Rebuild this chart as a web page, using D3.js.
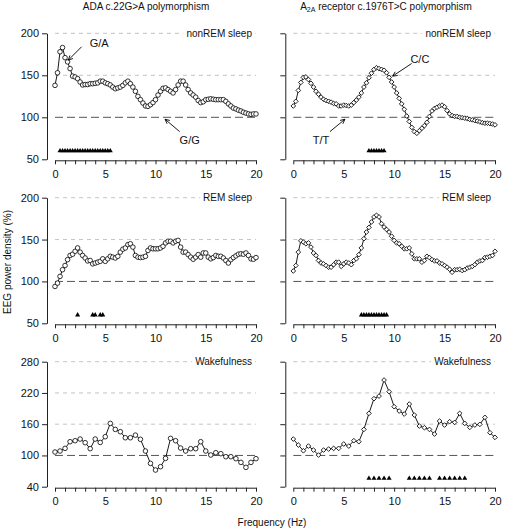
<!DOCTYPE html>
<html><head><meta charset="utf-8">
<script src="https://cdn.jsdelivr.net/npm/d3@7"></script>
<style>body{margin:0;background:#fff}svg{display:block}text{font-family:"Liberation Sans",Arial,sans-serif;fill:#111}</style>
</head><body><svg id="c" width="512" height="529"></svg>
<script>
// ---------- data ----------
const freqFine = d3.range(0, 20.001, 0.25);   // 0.25 Hz bins
const freqCoarse = d3.range(0, 20.001, 0.5);  // 0.5 Hz bins

const adaNonREM = [138,153,178,183,171,166,158,149,148,146,142,138.5,139,139,140,140,140.5,141,143,143,141,140,138.5,136,134,135,136,138,141,143,140,136,131,125,121,117,113.5,113,115,117.5,121,126.5,131,134.5,135,133,131,129,133,138.5,143,143,138.5,133,129,126.5,124,120,117.5,118.5,121,121.5,122,121.5,121,121,121,121,119,116,113.5,111,110,108.5,107.5,106,105,104,103.5,104,104];
const a2aNonREM = [113.5,119,132,141.5,147.5,148,145,140.5,136,131,127.5,124,121.5,120,119,118,116.5,116,113.5,113.5,114.5,114,113.5,114.5,117.5,120.5,124,129,136,141,147,152.5,157,159,158,157,156,153,147.5,142,136,129,122.5,116,109.5,101.5,95,88,83,81,84,87,90,94,101,107.5,110.5,112,113.5,114.5,112.5,108,104,102,101,101,100,99.5,99,98.5,97.5,97,96,95.5,94.5,93.5,93,93,92.5,92,91];
const adaREM = [94,98,106,114,119,126,131,132.5,136,140,135,131,128,124.5,125,121,122,123,124,127,124,127,130,129,128,130,135,138.5,140,144,145,141,131,129,128.5,129,130,137,140,139,139,139,140,142,146,148,148,146,148,149,141,135,135,132,129,126.5,129,132,129,134,134,129,127,128.5,131,130,130,128,125,122,126,128.5,130.5,132.5,133,132.5,134,131,127,126.5,128.5];
const a2aREM = [112.5,119,135,148.5,147,145,146,141,134,131,125,122,121,119,117,117,120,123,123,118,121,123,122,120,125,127,132,140,151,159,164.5,171,177,179,177,169,165,162,159,154,149,146,145,142,139,139,140,133,127,127,127,123,125,130,128.5,126,124.5,124.5,122,121,119,117,114.5,111,114,114,114.5,113,114,116,117,118,120,123,124.5,125,128.5,129,130,131,136];
const adaWake = [106.6,108.5,113.6,126.4,128.3,131.5,124.5,113,131.5,125,136,161.6,150,145.6,134,134,139,131,108.5,84.8,72,78.4,94.4,132.8,128.3,114.2,108.5,113,113,126.4,108.5,100.8,105.3,103.4,97.6,97.6,93.8,86.7,77.1,86.7,93.8];
const a2aWake = [131.5,120,109,118,110.4,100.8,110.4,112.3,113.6,113.6,122,118,128.3,126.4,150,180.8,209,214,244.8,222.4,193.6,185.3,179.5,198.7,177.6,156.5,153.3,150,141.1,166.1,158.4,164.8,163.5,180.8,161.6,153.9,158.4,159.7,173.1,143.7,134.7];

// significance markers (Hz)
const sigAdaNonREM = d3.range(0.5, 5.501, 0.25);
const sigA2aNonREM = d3.range(7.5, 9.001, 0.25);
const sigAdaREM = [2.25, 3.75, 4.0, 4.5, 4.75];
const sigA2aREM = d3.range(6.75, 9.251, 0.25);
const sigAdaWake = [];
const sigA2aWake = [7.5,8,8.5,9,9.5,11.5,12,12.5,13,13.5,14.5,15,15.5,16,16.5,17];

const sleepTicks = [50,100,150,200];
const wakeTicks = [40,100,160,220,280];
const xTicks = d3.range(0, 21, 1);
const xLabels = [0,5,10,15,20];

const titles = ["ADA c.22G>A polymorphism", "receptor c.1976T>C polymorphism"];
const stateLabels = ["nonREM sleep", "REM sleep", "Wakefulness"];

// ---------- layout ----------
const svg = d3.select("#c");
const xL = d3.scaleLinear().domain([0,20]).range([55,256]);
const xR = d3.scaleLinear().domain([0,20]).range([293.3,495]);
const rows = [
  {y: d3.scaleLinear().domain([50,200]).range([159.3,33.3]), ticks: sleepTicks, grid:[150,200], lab:stateLabels[0], sigY:60},
  {y: d3.scaleLinear().domain([50,200]).range([323.3,197.7]), ticks: sleepTicks, grid:[150,200], lab:stateLabels[1], sigY:60},
  {y: d3.scaleLinear().domain([40,280]).range([486.7,361.7]), ticks: wakeTicks, grid:[160,220,280], lab:stateLabels[2], sigY:56}
];
const panels = [
  [{x:xL, f:freqFine, v:adaNonREM, sig:sigAdaNonREM, sym:"circle", yl:true},
   {x:xR, f:freqFine, v:a2aNonREM, sig:sigA2aNonREM, sym:"diamond", yl:false}],
  [{x:xL, f:freqFine, v:adaREM, sig:sigAdaREM, sym:"circle", yl:true},
   {x:xR, f:freqFine, v:a2aREM, sig:sigA2aREM, sym:"diamond", yl:false}],
  [{x:xL, f:freqCoarse, v:adaWake, sig:sigAdaWake, sym:"circle", yl:true},
   {x:xR, f:freqCoarse, v:a2aWake, sig:sigA2aWake, sym:"diamond", yl:false}]
];

rows.forEach((row, ri) => {
  panels[ri].forEach(p => {
    const g = svg.append("g");
    const x = p.x, y = row.y;
    // grid lines
    g.selectAll(".grid").data(row.grid).join("line")
      .attr("x1", x(0)).attr("x2", x(20)).attr("y1", d=>y(d)).attr("y2", d=>y(d))
      .attr("stroke", "#c4c4c4").attr("stroke-width", 1).attr("stroke-dasharray", "4,4");
    g.append("line").attr("x1", x(0)).attr("x2", x(20)).attr("y1", y(100)).attr("y2", y(100))
      .attr("stroke", "#555").attr("stroke-width", 1).attr("stroke-dasharray", "8,4");
    // state label with white background
    const lt = g.append("text").attr("x", x(20)-4).attr("y", y(row.grid[row.grid.length-1])+3.5)
      .attr("text-anchor","end").attr("font-size", 10).text(row.lab);
    const bb = lt.node().getBBox();
    g.insert("rect", "text").attr("x", bb.x-3).attr("y", bb.y).attr("width", bb.width+6).attr("height", bb.height).attr("fill","#fff");
    // y axis
    const ya = d3.axisLeft(y).tickValues(row.ticks).tickSize(5).tickSizeOuter(0).tickPadding(3)
      .tickFormat(p.yl ? d3.format("d") : () => "");
    const yg = g.append("g").attr("transform", `translate(${x(0)-8},0)`).call(ya);
    // x axis
    const xa = d3.axisBottom(x).tickValues(xTicks).tickSize(4).tickSizeOuter(0).tickPadding(6)
      .tickFormat(d => xLabels.includes(d) ? d : "");
    const xg = g.append("g").attr("transform", `translate(0,${y.range()[0]+1})`).call(xa);
    [yg, xg].forEach(a => { a.selectAll("text").attr("font-size", 11).style("font-family","Liberation Sans, Arial"); a.selectAll("path,line").attr("stroke","#222"); });
    // significance triangles
    g.selectAll(".sig").data(p.sig).join("path")
      .attr("d", d3.symbol(d3.symbolTriangle, 11))
      .attr("transform", d => `translate(${x(d)},${y(row.sigY)})`).attr("fill","#000");
    // line
    const pts = p.f.map((f,i) => [f, p.v[i]]);
    g.append("path").datum(pts).attr("fill","none").attr("stroke","#000").attr("stroke-width",0.9)
      .attr("d", d3.line().x(d=>x(d[0])).y(d=>y(d[1])));
    if (p.sym === "circle") {
      g.selectAll(".pt").data(pts).join("circle").attr("cx", d=>x(d[0])).attr("cy", d=>y(d[1]))
        .attr("r", 2.3).attr("fill","#fff").attr("stroke","#000").attr("stroke-width",0.8);
    } else {
      g.selectAll(".pt").data(pts).join("path").attr("d", d3.symbol(d3.symbolSquare, 11))
        .attr("transform", d=>`translate(${x(d[0])},${y(d[1])}) rotate(45)`)
        .attr("fill","#fff").attr("stroke","#000").attr("stroke-width",0.8);
    }
  });
});

// titles
svg.append("text").attr("x", 146).attr("y", 10).attr("text-anchor","middle").attr("font-size",10).text(titles[0]);
const t2 = svg.append("text").attr("x", 386).attr("y", 10).attr("text-anchor","middle").attr("font-size",10);
t2.append("tspan").text("A");
t2.append("tspan").attr("font-size",7).attr("dy",2).text("2A");
t2.append("tspan").attr("dy",-2).text(" " + titles[1]);

// axis titles
svg.append("text").attr("transform","translate(11,262) rotate(-90)").attr("text-anchor","middle").attr("font-size",10).text("EEG power density (%)");
svg.append("text").attr("x",272).attr("y",526).attr("text-anchor","middle").attr("font-size",10).text("Frequency (Hz)");

// genotype annotations (in data units)
const notes = [
  {x:xL, y:rows[0].y, label:"G/A", tx:4.4, ty:188.5, x1:2.65, y1:184, x2:1.32, y2:168},
  {x:xL, y:rows[0].y, label:"G/G", tx:13.4, ty:73, x1:12.4, y1:83, x2:10.95, y2:97.7},
  {x:xR, y:rows[0].y, label:"C/C", tx:12.55, ty:170, x1:11.73, y1:164, x2:9.85, y2:149},
  {x:xR, y:rows[0].y, label:"T/T", tx:2.75, ty:73, x1:3.64, y1:83, x2:5.12, y2:97.7}
];
notes.forEach(n => {
  const X1=n.x(n.x1), Y1=n.y(n.y1), X2=n.x(n.x2), Y2=n.y(n.y2);
  svg.append("line").attr("x1",X1).attr("y1",Y1).attr("x2",X2).attr("y2",Y2).attr("stroke","#000").attr("stroke-width",0.9);
  const ang = Math.atan2(Y2-Y1, X2-X1), L=5, a=Math.PI/7;
  svg.append("path").attr("d", `M${X2-L*Math.cos(ang-a)},${Y2-L*Math.sin(ang-a)}L${X2},${Y2}L${X2-L*Math.cos(ang+a)},${Y2-L*Math.sin(ang+a)}`)
    .attr("fill","none").attr("stroke","#000").attr("stroke-width",0.9);
  svg.append("text").attr("x", n.x(n.tx)).attr("y", n.y(n.ty)+4).attr("text-anchor","middle").attr("font-size",11).text(n.label);
});
</script></body></html>
